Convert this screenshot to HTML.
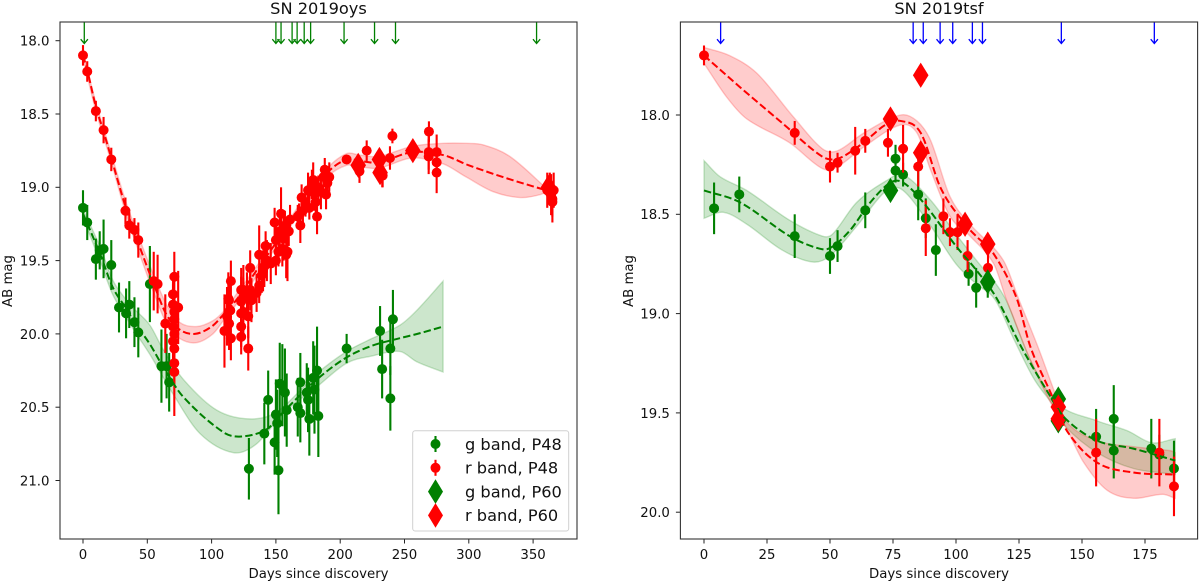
<!DOCTYPE html>
<html lang="en">
<head>
<meta charset="utf-8">
<title>SN 2019oys and SN 2019tsf light curves</title>
<style>
html,body{margin:0;padding:0;background:#fff;width:1200px;height:582px;overflow:hidden}
svg{display:block}
text{font-family:"DejaVu Sans","Liberation Sans",sans-serif;fill:#111}
</style>
</head>
<body>
<svg id="fig" xmlns="http://www.w3.org/2000/svg" width="1200" height="582" viewBox="0 0 1200 582"></svg>
<script>
// ---------- Left panel: SN 2019oys ----------
const oysXTicks = [0,50,100,150,200,250,300,350];
const oysYTicks = ["18.0","18.5","19.0","19.5","20.0","20.5","21.0"];
const oysLimitDays = [1,150,154,162.6,166.5,172,177,203,226.7,243,352.7];

const oysGDays = [0,3.3,10,13,16,22,28,33.5,36,40,43,52,61,65,67,129,141,144,149,151,150,152,153,155,157,158.4,167,169,169,174,176,175,179,180,182,183,205,231,232.6,239,239,241];
const oysGMags = [19.14,19.24,19.49,19.43,19.42,19.53,19.82,19.86,19.8,19.92,19.99,19.66,20.22,20.22,20.33,20.92,20.68,20.45,20.74,20.61,20.55,20.93,20.34,20.35,20.4,20.52,20.5,20.33,20.54,20.4,20.58,20.45,20.3,20.38,20.25,20.56,20.1,19.98,20.24,20.1,20.44,19.9];
const oysGErrs = [0.12,0.12,0.14,0.13,0.2,0.17,0.17,0.17,0.16,0.17,0.17,0.26,0.25,0.22,0.2,0.21,0.21,0.2,0.22,0.23,0.24,0.3,0.28,0.28,0.3,0.25,0.2,0.2,0.2,0.2,0.25,0.22,0.25,0.3,0.3,0.28,0.1,0.17,0.2,0.18,0.22,0.2];

const oysRDays = [0,3.3,10,16,22,33,36,40,43,55,58,71,64,74,70,70,71,71,70,71,70,71,71,71,110,112,113.5,114.5,115,115,113.6,123,123,123,123,123,127.5,128.5,128.5,131,130,113,124.7,124.7,124.7,130,135,137,137,139,140,141,142,143,146,149,150,150,152,153,154,155,156,157,158,159,160,161,167,168,169,170,171,173,175,176,178,179,180,181,182,183,185,187,188,189,190,191.5,205,215,220.6,233,238.7,240.6,232.7,269,268.8,268.8,275,275,275,361,363,364,365,366,365];
const oysRMags = [18.1,18.21,18.48,18.61,18.81,19.16,19.26,19.29,19.36,19.64,19.66,19.61,19.93,19.82,19.73,19.8,19.85,19.9,19.95,20,20.05,20.1,20.2,20.26,19.98,19.88,19.77,19.84,20.03,19.64,19.93,20.02,19.95,19.86,19.78,19.7,19.74,19.88,20.1,19.77,19.7,19.76,19.7,19.75,19.85,19.55,19.72,19.67,19.46,19.6,19.57,19.54,19.4,19.5,19.52,19.24,19.36,19.5,19.44,19.3,19.18,19.42,19.35,19.26,19.46,19.44,19.3,19.22,19.2,19.19,19.26,19.07,19.16,19.1,19.02,19.14,18.98,18.95,19.04,19.1,19.2,19,19.03,18.93,18.88,19.05,18.97,18.93,18.81,18.89,18.75,18.92,18.8,18.65,18.91,18.62,18.76,18.79,18.76,18.83,18.9,19.02,19.0,19.05,19.08,19.02,19.1];
const oysRErrs = [0.07,0.07,0.07,0.09,0.08,0.09,0.09,0.08,0.12,0.2,0.2,0.17,0.2,0.25,0.12,0.14,0.12,0.14,0.13,0.12,0.15,0.17,0.15,0.3,0.25,0.2,0.16,0.15,0.15,0.14,0.18,0.12,0.14,0.14,0.17,0.15,0.16,0.15,0.15,0.15,0.14,0.18,0.17,0.13,0.18,0.12,0.13,0.12,0.2,0.12,0.14,0.14,0.1,0.14,0.14,0.1,0.14,0.1,0.1,0.14,0.18,0.12,0.15,0.1,0.16,0.2,0.1,0.1,0.08,0.08,0.12,0.09,0.08,0.1,0.12,0.08,0.1,0.12,0.12,0.1,0.12,0.08,0.12,0.08,0.08,0.1,0.1,0.1,0.03,0.08,0.07,0.08,0.08,0.05,0.09,0.07,0.12,0.12,0.12,0.1,0.14,0.12,0.1,0.14,0.12,0.12,0.14];

const oysGDiaDays = [];
const oysGDiaMags = [];
const oysRDiaDays = [214,230.5,231,256.5,362];
const oysRDiaMags = [18.85,18.81,18.9,18.75,19.0];

const oysRLineDays = [0,3.3,10,16,22,33,43,55,65,75,87,100,110,120,130,150,170,190,205,215,230,256,280,300,330,360];
const oysRLineMags = [18.1,18.2,18.45,18.62,18.8,19.13,19.38,19.66,19.87,19.97,20,19.95,19.86,19.76,19.63,19.38,19.13,18.9,18.81,18.82,18.83,18.76,18.78,18.85,18.94,19.02];
const oysRUpDays = [0,10,22,33,43,55,65,75,88,101,110,120,130,150,170,190,205,215,230,256,280,298,311,332,362];
const oysRUpMags = [18.08,18.42,18.77,19.09,19.33,19.6,19.8,19.92,19.95,19.91,19.84,19.72,19.6,19.35,19.1,18.87,18.77,18.78,18.79,18.72,18.7,18.7,18.71,18.79,19.02];
const oysRLoDays = [0,10,22,33,43,55,65,75,88,101,110,120,130,150,170,190,205,215,230,256,280,298,319,340,355.5,362];
const oysRLoMags = [18.12,18.48,18.83,19.17,19.43,19.72,19.93,20.03,20.06,20,19.9,19.79,19.67,19.41,19.16,18.93,18.85,18.86,18.87,18.8,18.84,18.93,19.03,19.07,19.05,19.02];

const oysGLineDays = [0,5.4,14,23,33,40,52,62,78,109,123,143,156,182,205,225,246,260,280];
const oysGLineMags = [19.18,19.29,19.47,19.68,19.82,19.92,20.07,20.22,20.43,20.67,20.7,20.65,20.53,20.31,20.16,20.08,20.03,20,19.95];
const oysGUpDays = [0,14,23,33,40,52,62,78,104,130,151,182,205,225,246.5,259.5,280];
const oysGUpMags = [19.15,19.42,19.63,19.76,19.83,19.94,20.1,20.31,20.52,20.58,20.53,20.27,20.12,20.03,19.94,19.84,19.64];
const oysGLoDays = [0,14,23,33,40,52,70,91,117,135,156,182,205,225,246.5,259.5,280];
const oysGLoMags = [19.21,19.52,19.73,19.88,19.98,20.14,20.41,20.68,20.81,20.75,20.54,20.36,20.2,20.15,20.12,20.19,20.26];

// ---------- Right panel: SN 2019tsf ----------
const tsfXTicks = [0,25,50,75,100,125,150,175];
const tsfYTicks = ["18.0","18.5","19.0","19.5","20.0"];
const tsfLimitDays = [6.6,83,87,93.7,98.7,106.5,110.5,141.8,178.7];

const tsfGDays = [4,14,36,50,53,64,76,76,79,85,88,92,105,108,112.6,155.6,162.6,162.6,177.5,180.7,186.5];
const tsfGMags = [18.47,18.4,18.61,18.71,18.66,18.48,18.22,18.28,18.3,18.4,18.52,18.68,18.8,18.87,18.86,19.62,19.53,19.69,19.68,19.71,19.78];
const tsfGErrs = [0.13,0.09,0.11,0.09,0.08,0.09,0.07,0.06,0.06,0.13,0.1,0.13,0.06,0.1,0.06,0.14,0.17,0.14,0.15,0.1,0.14];

const tsfRDays = [0,36,50,53,60,64,73,79,85,88,95,97.6,100.6,104.6,112.7,155.6,180.7,186.5];
const tsfRMags = [17.7,18.09,18.26,18.24,18.18,18.13,18.14,18.17,18.26,18.57,18.51,18.59,18.59,18.71,18.77,19.7,19.7,19.87];
const tsfRErrs = [0.05,0.06,0.08,0.05,0.12,0.06,0.07,0.12,0.1,0.14,0.09,0.07,0.09,0.08,0.08,0.17,0.17,0.15];

const tsfGDiaDays = [74,112.6,140.6,140.6];
const tsfGDiaMags = [18.38,18.84,19.43,19.54];
const tsfRDiaDays = [74,86,86,103.6,112.6,140.6,140.6];
const tsfRDiaMags = [18.02,17.8,18.19,18.55,18.65,19.47,19.53];

const tsfRLineDays = [0,14.3,31,47,53,60,66,72,78,86,94,104.3,108,115,124,129.6,137.6,144,156,170.4,186];
const tsfRLineMags = [17.7,17.86,18.04,18.21,18.22,18.17,18.11,18.05,18.03,18.09,18.37,18.56,18.61,18.7,18.92,19.17,19.4,19.59,19.75,19.8,19.81];
const tsfRUpDays = [0,10,21,35.5,47,53,63.5,78,84.5,90,97.6,105.6,118.7,125,132.6,138.7,143.5,156,170.4,185,187];
const tsfRUpMags = [17.66,17.7,17.79,18.01,18.17,18.18,18.09,18,18.03,18.13,18.41,18.55,18.73,18.93,19.17,19.38,19.54,19.64,19.67,19.69,19.7];
const tsfRLoDays = [0,9,17,34,47,53,63.5,78,84.5,90,97.6,105.6,115,120,129,137.6,143.5,150.7,160,170.4,182,187];
const tsfRLoMags = [17.74,17.91,18.02,18.14,18.27,18.26,18.16,18.05,18.09,18.28,18.51,18.61,18.75,18.93,19.22,19.45,19.57,19.75,19.89,19.93,19.91,19.93];

const tsfGLineDays = [0,14.3,34,45,50,58,66,74,79,87,100,108,116,126,137.6,143.5,156,170.4,187];
const tsfGLineMags = [18.38,18.44,18.61,18.67,18.67,18.58,18.44,18.34,18.34,18.44,18.66,18.78,18.92,19.17,19.42,19.53,19.64,19.68,19.74];
const tsfGUpDays = [0,6.3,17,34,47,51,60.6,72.5,79,90,100,108,119.4,129.4,140,156,168,177.6,187];
const tsfGUpMags = [18.23,18.31,18.38,18.53,18.61,18.6,18.44,18.33,18.3,18.43,18.6,18.73,18.92,19.23,19.45,19.54,19.59,19.65,19.63];
const tsfGLoDays = [0,7.7,17,31,43,50,60.6,72.5,79,90,100,108,115.5,123,131,139,143.5,156,170.4,187];
const tsfGLoMags = [18.52,18.49,18.55,18.68,18.74,18.71,18.56,18.38,18.38,18.56,18.75,18.85,18.93,19.13,19.33,19.47,19.57,19.7,19.78,19.81];

const legendLabels = ["g band, P48","r band, P48","g band, P60","r band, P60"];

// ---------- Drawing ----------
const NS = "http://www.w3.org/2000/svg";
const svg = document.getElementById('fig');
const GREEN = "#008000", RED = "#ff0000";

function mk(tag, parent, attrs, txt){
  const el = document.createElementNS(NS, tag);
  for (const k in attrs) el.setAttribute(k, attrs[k]);
  if (txt !== undefined) el.textContent = txt;
  parent.appendChild(el);
  return el;
}

function curve(xs, ys){
  const n = xs.length, m = [];
  for (let i = 0; i < n; i++){
    const a = Math.max(i-1,0), b = Math.min(i+1,n-1);
    m.push((ys[b]-ys[a])/(xs[b]-xs[a]));
  }
  let d = "";
  for (let i = 0; i < n-1; i++){
    const h = (xs[i+1]-xs[i])/3;
    d += "C"+(xs[i]+h).toFixed(2)+" "+(ys[i]+m[i]*h).toFixed(2)+" "+(xs[i+1]-h).toFixed(2)+" "+(ys[i+1]-m[i+1]*h).toFixed(2)+" "+xs[i+1].toFixed(2)+" "+ys[i+1].toFixed(2);
  }
  return d;
}

function panel(o){
  const g = mk('g', svg, {});
  
  
  const sx = d => o.x0 + o.xs * d;
  const sy = m => o.y18 + o.ys * (m - 18);

  function band(upD, upM, loD, loM, color, nm){
    const ux = upD.map(sx), uy = upM.map(sy);
    const lx = loD.map(sx).reverse(), ly = loM.map(sy).reverse();
    const d = "M"+ux[0]+" "+uy[0]+curve(ux,uy)+"L"+lx[0]+" "+ly[0]+curve(lx,ly)+"Z";
    const el = mk('path', g, {d:d, fill:color, 'fill-opacity':0.2, stroke:color, 'stroke-opacity':0.2, 'stroke-width':1.4});
    
    
  }
  function line(days, mags, color, nm){
    const x = days.map(sx), y = mags.map(sy);
    const el = mk('path', g, {d:"M"+x[0]+" "+y[0]+curve(x,y), fill:'none', stroke:color, 'stroke-width':2, 'stroke-dasharray':'7.4 3.2'});
    
    
  }
  function points(days, mags, errs, color, nm){
    const pg = mk('g', g, {});
    
    
    days.forEach((d,i) => {
      mk('line', pg, {x1:sx(d), x2:sx(d), y1:sy(mags[i]-errs[i]), y2:sy(mags[i]+errs[i]), stroke:color, 'stroke-width':2.1});
    });
    days.forEach((d,i) => {
      mk('circle', pg, {cx:sx(d), cy:sy(mags[i]), r:5, fill:color});
    });
  }
  function diamonds(days, mags, color, nm){
    const pg = mk('g', g, {});
    
    
    days.forEach((d,i) => {
      const x = sx(d), y = sy(mags[i]);
      mk('polygon', pg, {points:(x-7.8)+","+y+" "+x+","+(y-12.6)+" "+(x+7.8)+","+y+" "+x+","+(y+12.6), fill:color});
    });
  }

  band(o.gUpD,o.gUpM,o.gLoD,o.gLoM,GREEN,o.name+'-g-band-uncertainty');
  band(o.rUpD,o.rUpM,o.rLoD,o.rLoM,RED,o.name+'-r-band-uncertainty');
  points(o.gD,o.gM,o.gE,GREEN,o.name+'-g-band-p48-points');
  points(o.rD,o.rM,o.rE,RED,o.name+'-r-band-p48-points');
  diamonds(o.gDD,o.gDM,GREEN,o.name+'-g-band-p60-points');
  diamonds(o.rDD,o.rDM,RED,o.name+'-r-band-p60-points');
  line(o.gLD,o.gLM,GREEN,o.name+'-g-band-fit-line');
  line(o.rLD,o.rLM,RED,o.name+'-r-band-fit-line');

  // limit arrows
  const ag = mk('g', g, {});
  
  
  o.limits.forEach(d => {
    const x = sx(d);
    mk('path', ag, {d:"M"+x+" "+o.top+"V43.5M"+(x-3.6)+" 39.2L"+x+" 43.5L"+(x+3.6)+" 39.2", fill:'none', stroke:o.limitColor, 'stroke-width':1.3});
  });

  // ticks
  const xg = mk('g', g, {});
  
  
  o.xTicks.forEach(t => {
    mk('line', xg, {x1:sx(t), x2:sx(t), y1:o.bottom, y2:o.bottom+4.5, stroke:'#222', 'stroke-width':1});
    mk('text', xg, {x:sx(t), y:o.bottom+20.2, 'text-anchor':'middle', 'font-size':13.3}, String(t));
  });
  const yg = mk('g', g, {});
  
  
  o.yTicks.forEach(t => {
    const y = sy(parseFloat(t));
    mk('line', yg, {x1:o.left-4.5, x2:o.left, y1:y, y2:y, stroke:'#222', 'stroke-width':1});
    mk('text', yg, {x:o.left-10.5, y:y+4.9, 'text-anchor':'end', 'font-size':13.3}, t);
  });

  const frame = mk('rect', g, {x:o.left, y:o.top, width:o.right-o.left, height:o.bottom-o.top, fill:'none', stroke:'#333', 'stroke-width':1.1});
  
  

  const ti = mk('text', g, {x:(o.left+o.right)/2, y:14, 'text-anchor':'middle', 'font-size':16.2}, o.title);
  
  
  const xl = mk('text', g, {x:(o.left+o.right)/2, y:578, 'text-anchor':'middle', 'font-size':13.3}, 'Days since discovery');
  
  
  const yl = mk('text', g, {x:0, y:0, 'text-anchor':'middle', 'font-size':13.3, transform:'translate('+o.ylabelX+' 281) rotate(-90)'}, 'AB mag');
  
  
}

panel({name:'sn-2019oys', title:'SN 2019oys', left:60, right:577, top:22, bottom:539,
  x0:83, xs:1.286, y18:40.7, ys:146.6, ylabelX:12, xTicks:oysXTicks, yTicks:oysYTicks,
  limits:oysLimitDays, limitColor:GREEN,
  gD:oysGDays,gM:oysGMags,gE:oysGErrs,rD:oysRDays,rM:oysRMags,rE:oysRErrs,
  gDD:oysGDiaDays,gDM:oysGDiaMags,rDD:oysRDiaDays,rDM:oysRDiaMags,
  gLD:oysGLineDays,gLM:oysGLineMags,rLD:oysRLineDays,rLM:oysRLineMags,
  gUpD:oysGUpDays,gUpM:oysGUpMags,gLoD:oysGLoDays,gLoM:oysGLoMags,
  rUpD:oysRUpDays,rUpM:oysRUpMags,rLoD:oysRLoDays,rLoM:oysRLoMags});

panel({name:'sn-2019tsf', title:'SN 2019tsf', left:680.4, right:1197.6, top:22, bottom:539,
  x0:704, xs:2.52, y18:115, ys:198.6, ylabelX:633, xTicks:tsfXTicks, yTicks:tsfYTicks,
  limits:tsfLimitDays, limitColor:'#0000ff',
  gD:tsfGDays,gM:tsfGMags,gE:tsfGErrs,rD:tsfRDays,rM:tsfRMags,rE:tsfRErrs,
  gDD:tsfGDiaDays,gDM:tsfGDiaMags,rDD:tsfRDiaDays,rDM:tsfRDiaMags,
  gLD:tsfGLineDays,gLM:tsfGLineMags,rLD:tsfRLineDays,rLM:tsfRLineMags,
  gUpD:tsfGUpDays,gUpM:tsfGUpMags,gLoD:tsfGLoDays,gLoM:tsfGLoMags,
  rUpD:tsfRUpDays,rUpM:tsfRUpMags,rLoD:tsfRLoDays,rLoM:tsfRLoMags});

// legend
const lg = mk('g', svg, {});


mk('rect', lg, {x:412.7, y:430.7, width:156, height:100.3, rx:2.5, fill:'#fff', 'fill-opacity':0.85, stroke:'#d0d0d0', 'stroke-width':1});
const legendRowY = i => 444 + i * 23.8;
legendLabels.forEach((label,i) => {
  const row = mk('g', lg, {});
  
  
  const y = legendRowY(i), x = 435.5, c = i % 2 === 0 ? GREEN : RED;
  if (i < 2){
    mk('line', row, {x1:x, x2:x, y1:y-8, y2:y+8, stroke:c, 'stroke-width':2.1});
    mk('circle', row, {cx:x, cy:y, r:5, fill:c});
  } else {
    mk('polygon', row, {points:(x-7.5)+","+y+" "+x+","+(y-12.3)+" "+(x+7.5)+","+y+" "+x+","+(y+12.3), fill:c});
  }
  mk('text', row, {x:465, y:y+5.8, 'font-size':16.2}, label);
});
</script>
</body>
</html>
